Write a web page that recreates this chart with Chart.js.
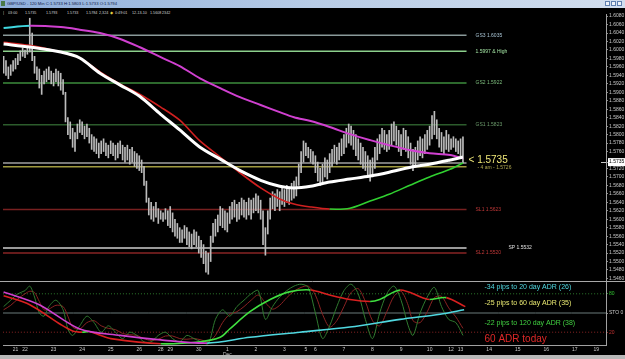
<!DOCTYPE html>
<html>
<head>
<meta charset="utf-8">
<script src="https://cdn.jsdelivr.net/npm/chart.js@4.4.1/dist/chart.umd.min.js"></script>
<style>
  html, body { margin: 0; padding: 0; background: #000; }
  body { width: 625px; height: 359px; position: relative; overflow: hidden; font-family: 'Liberation Sans', Arial, sans-serif; }
  #titlebar { position: absolute; left: 0; top: 0; width: 625px; height: 8px; background: linear-gradient(to right, #8eaedb, #b8cce6 50%, #d2deee); }
  #titlebar .t { position: absolute; left: 7px; top: 1px; font-size: 6px; line-height: 6px; color: #10204a; white-space: nowrap; transform: scale(0.7); transform-origin: left top; }
  #titlebar .icon { position: absolute; left: 1px; top: 1px; width: 4px; height: 5px; background: #4a7a4a; }
  #titlebar .btn { position: absolute; top: 1px; width: 5px; height: 5px; background: #eef2f8; box-shadow: inset 0 0 0 1px #6080b0; }
  #header span { position: absolute; top: 11px; font-size: 6px; line-height: 6px; color: #d0d0d0; white-space: nowrap; transform: scale(0.62); transform-origin: left top; }
  #wrap { position: absolute; left: 0; top: 8px; width: 625px; height: 347px; }
  #bottom { position: absolute; left: 0; top: 355px; width: 625px; height: 4px; background: #b8b8b8; }
</style>
</head>
<body>
<div id="titlebar">
  <div class="icon"></div>
  <span class="t">GBP/USD - 120 Min C:1.5733 H:1.5803 L:1.5733 O:1.5794</span>
  <div class="btn" style="left:605px"></div>
  <div class="btn" style="left:611px"></div>
  <div class="btn" style="left:617px"></div>
</div>
<div id="header">
  <span style="left:3px">|</span>
  <span style="left:8px">03:00</span>
  <span style="left:25px">1.5735</span>
  <span style="left:46px">1.5793</span>
  <span style="left:67px">1.5733</span>
  <span style="left:86px">1.5784</span>
  <span style="left:99px">2,324</span>
  <span style="left:110px;color:#e8d040">&#9670;</span>
  <span style="left:115px">0:49:01</span>
  <span style="left:132px">12-13-10</span>
  <span style="left:150px">1.5608</span>
  <span style="left:162px">2342</span>
</div>
<div id="wrap"><canvas id="chart"></canvas></div>
<div id="bottom"></div>

<script>
// x = bar number (120 min bars), 0 = first bar of Mon 22 Nov
const dayLabels = ['21', '22', '23', '24', '25', '26', '28', '29', '30', ['1', 'Dec'], '2', '3', '5', '6', '7', '8', '9', '10', '12', '13', '14', '15', '16', '17', '19'];
const dayTicks = [-4, 0, 12, 24, 36, 48, 57, 61, 73, 85, 97, 109, 118, 122, 134, 146, 158, 170, 179, 183, 195, 207, 219, 231, 240];
const firstBar = -9;

const highs = [
  1.5985, 1.5975, 1.5960, 1.5965, 1.5975, 1.5980, 1.5990, 1.5998, 1.6005, 1.6000, 1.6010, 1.6075,
  1.6040, 1.5985, 1.5960, 1.5955, 1.5940, 1.5950, 1.5955, 1.5960, 1.5950, 1.5945, 1.5955, 1.5950,
  1.5945, 1.5930, 1.5900, 1.5840, 1.5830, 1.5815, 1.5805, 1.5825, 1.5835, 1.5830, 1.5820, 1.5825,
  1.5815, 1.5800, 1.5795, 1.5790, 1.5780, 1.5785, 1.5790, 1.5780, 1.5775, 1.5785, 1.5780, 1.5775,
  1.5780, 1.5785, 1.5775, 1.5770, 1.5775, 1.5765, 1.5770, 1.5760, 1.5755, 1.5750, 1.5740, 1.5725,
  1.5690, 1.5650, 1.5640, 1.5630, 1.5640, 1.5625, 1.5620, 1.5615, 1.5625, 1.5620, 1.5630, 1.5615,
  1.5600, 1.5590, 1.5580, 1.5575, 1.5585, 1.5580, 1.5570, 1.5565, 1.5575, 1.5570, 1.5560, 1.5550,
  1.5540, 1.5525, 1.5520, 1.5560, 1.5590, 1.5600, 1.5610, 1.5630, 1.5625, 1.5620, 1.5615, 1.5630,
  1.5640, 1.5645, 1.5635, 1.5640, 1.5650, 1.5645, 1.5640, 1.5650, 1.5645, 1.5650, 1.5660, 1.5655,
  1.5645, 1.5620, 1.5580, 1.5620, 1.5650, 1.5665, 1.5660, 1.5670, 1.5665, 1.5675, 1.5670, 1.5680,
  1.5675, 1.5685, 1.5690, 1.5700, 1.5730, 1.5760, 1.5785, 1.5780, 1.5770, 1.5765, 1.5760, 1.5750,
  1.5735, 1.5720, 1.5730, 1.5745, 1.5740, 1.5755, 1.5765, 1.5775, 1.5770, 1.5780, 1.5790, 1.5800,
  1.5815, 1.5825, 1.5820, 1.5810, 1.5800, 1.5790, 1.5780, 1.5770, 1.5760, 1.5750, 1.5740, 1.5745,
  1.5770, 1.5790, 1.5800, 1.5815, 1.5810, 1.5800, 1.5810, 1.5825, 1.5830, 1.5820, 1.5810, 1.5800,
  1.5815, 1.5810, 1.5795, 1.5780, 1.5765, 1.5770, 1.5785, 1.5795, 1.5790, 1.5800, 1.5810, 1.5820,
  1.5845, 1.5855, 1.5835, 1.5815, 1.5805, 1.5795, 1.5810, 1.5800, 1.5790, 1.5795, 1.5790, 1.5785,
  1.5790, 1.5795
];
const lows = [
  1.5945, 1.5940, 1.5932, 1.5940, 1.5950, 1.5955, 1.5965, 1.5975, 1.5985, 1.5982, 1.5990, 1.5995,
  1.5975, 1.5945, 1.5930, 1.5910, 1.5895, 1.5920, 1.5925, 1.5930, 1.5920, 1.5915, 1.5925, 1.5915,
  1.5905, 1.5895, 1.5830, 1.5800, 1.5790, 1.5770, 1.5760, 1.5790, 1.5805, 1.5800, 1.5790, 1.5795,
  1.5780, 1.5765, 1.5760, 1.5755, 1.5745, 1.5755, 1.5760, 1.5750, 1.5745, 1.5755, 1.5750, 1.5740,
  1.5745, 1.5755, 1.5740, 1.5735, 1.5740, 1.5730, 1.5735, 1.5725, 1.5720, 1.5715, 1.5710, 1.5680,
  1.5640, 1.5610, 1.5600, 1.5595, 1.5605, 1.5590, 1.5600, 1.5595, 1.5600, 1.5585, 1.5580, 1.5570,
  1.5560, 1.5555, 1.5545, 1.5545, 1.5555, 1.5540, 1.5535, 1.5530, 1.5540, 1.5535, 1.5520, 1.5510,
  1.5495, 1.5475, 1.5470, 1.5500, 1.5545, 1.5560, 1.5570, 1.5585, 1.5580, 1.5575, 1.5570, 1.5590,
  1.5600, 1.5605, 1.5595, 1.5600, 1.5610, 1.5605, 1.5600, 1.5610, 1.5600, 1.5615, 1.5620, 1.5615,
  1.5600, 1.5540, 1.5515, 1.5565, 1.5600, 1.5625, 1.5620, 1.5630, 1.5620, 1.5635, 1.5630, 1.5640,
  1.5635, 1.5645, 1.5650, 1.5655, 1.5680, 1.5710, 1.5735, 1.5750, 1.5745, 1.5735, 1.5730, 1.5710,
  1.5690, 1.5680, 1.5685, 1.5700, 1.5695, 1.5710, 1.5725, 1.5735, 1.5730, 1.5740, 1.5750, 1.5755,
  1.5770, 1.5780, 1.5775, 1.5765, 1.5750, 1.5740, 1.5730, 1.5720, 1.5715, 1.5700, 1.5690, 1.5700,
  1.5720, 1.5740, 1.5755, 1.5770, 1.5765, 1.5760, 1.5765, 1.5775, 1.5785, 1.5775, 1.5760, 1.5750,
  1.5765, 1.5760, 1.5745, 1.5730, 1.5715, 1.5725, 1.5740, 1.5750, 1.5745, 1.5755, 1.5765, 1.5775,
  1.5790, 1.5800, 1.5790, 1.5770, 1.5760, 1.5755, 1.5765, 1.5760, 1.5765, 1.5770, 1.5760, 1.5755,
  1.5745, 1.5733
];
const lastPrice = 1.5735;

// moving averages, read at these bar numbers
const maT = [-9, 2, 15, 23, 31.5, 40, 48, 57, 65, 73.5, 82, 90, 99, 107, 113, 120, 128, 136.5, 145, 153, 162, 170, 178.6, 184];
const slowMA = [1.6052, 1.6057, 1.6054, 1.6048, 1.6040, 1.6026, 1.6007, 1.5983, 1.5962, 1.5933, 1.5910, 1.5889,
  1.5870, 1.5853, 1.5841, 1.5832, 1.5818, 1.5801, 1.5787, 1.5775, 1.5763, 1.5756, 1.5752, 1.5744];
const whiteMA = [1.6014, 1.6007, 1.5995, 1.5981, 1.5945, 1.5917, 1.5891, 1.5848, 1.5811, 1.5770, 1.5742, 1.5716,
  1.5692, 1.5678, 1.5674, 1.5678, 1.5688, 1.5695, 1.5702, 1.5711, 1.5723, 1.5730, 1.5740, 1.5747];
const fastMA = [1.6018, 1.6011, 1.5995, 1.5981, 1.5948, 1.5919, 1.5896, 1.5865, 1.5834, 1.5785, 1.5747, 1.5711,
  1.5674, 1.5648, 1.5636, 1.5629, 1.5624, 1.5626, 1.5643, 1.5659, 1.5681, 1.5700, 1.5718, 1.5733];

// support / resistance levels
const levelValues = [1.6035, 1.5997, 1.5922, 1.5823, 1.5623, 1.5532, 1.5520];
const levelLabels = ['GS3 1.6035', '1.5997 & High', 'GS2 1.5922', 'GS1 1.5823', 'SL1 1.5623', 'SP 1.5532', 'SL2 1.5520'];
const closeLine = 1.5733;
const pivotLine = 1.5724;

const priceTicks = [1.5460, 1.5480, 1.5500, 1.5520, 1.5540, 1.5560, 1.5580, 1.5600, 1.5620, 1.5640, 1.5660,
  1.5680, 1.5700, 1.5720, 1.5735, 1.5760, 1.5780, 1.5800, 1.5820, 1.5840, 1.5860, 1.5880, 1.5900, 1.5920,
  1.5940, 1.5960, 1.5980, 1.6000, 1.6020, 1.6040, 1.6060, 1.6080];

// stochastic panel
const stoT = [-9, -6, -3, 0, 2, 4, 6, 8, 10, 13, 16, 18, 20, 23, 26, 29, 32, 35, 38, 41, 44, 47, 50, 53, 56, 59, 62, 65,
  68, 71, 74, 77, 80, 83, 86, 89, 92, 95, 98, 101, 104, 107, 110, 113, 116, 119, 122, 125, 128, 131, 134, 137,
  140, 143, 146, 149, 152, 155, 158, 161, 163, 166, 169, 172, 175, 178, 181, 184];
const stoK = [60, 70, 80, 85, 92, 75, 50, 45, 60, 70, 55, 25, 15, 30, 45, 35, 20, 30, 20, 10, 20, 15, 5, 5, 15, 20, 10, 5,
  15, 10, 5, 2, 40, 55, 45, 60, 70, 80, 85, 40, 60, 75, 85, 92, 95, 90, 50, 10, 30, 60, 85, 95,
  80, 40, 10, 50, 80, 92, 70, 30, 15, 50, 75, 90, 60, 40, 35, 15];
const stoD = [55, 62, 72, 80, 84, 82, 68, 55, 56, 62, 60, 45, 28, 25, 35, 38, 30, 26, 24, 18, 16, 15, 10, 7, 9, 14, 14, 10,
  9, 10, 8, 5, 15, 35, 48, 52, 60, 70, 78, 66, 56, 62, 74, 84, 90, 92, 78, 48, 28, 38, 60, 82,
  88, 68, 38, 30, 52, 76, 84, 62, 38, 35, 52, 74, 76, 58, 44, 26];
const trendT = [-9, 2, 15, 20, 24, 27, 31, 36, 57, 73.5, 82, 86, 94.5, 103, 111, 120, 128, 136.5, 145, 149, 157.6, 167, 170, 177, 185];
const trendSto = [77, 63, 32, 22, 20, 21, 16, 10, 2, 5, 12, 25, 52, 71, 83, 86, 78, 71, 68, 71, 86, 74, 71, 74, 60];
const slowT = [-9, 6, 23, 40, 57, 76.5, 94.5, 115.5, 136.5, 157.6, 174.4, 184.5];
const slowSto = [83, 63, 25, 15, 8, 3, 12, 20, 28, 40, 48, 55];
const stoLevels = [20, 50, 80];
const stoLabels = ['20', 'STO 0', '80'];

const adrTexts = ['-34 pips to 20 day ADR (26)', '-25 pips to 60 day ADR (35)', '-22 pips to 120 day ADR (38)', '60 ADR today'];

const xMin = -9.25, xMax = 244.1, lineEnd = 185.5;
const family = "'Liberation Sans', Arial, sans-serif";
Chart.defaults.font.family = family;
Chart.defaults.font.size = 5;

const pts = (ts, vs) => ts.map((t, i) => ({ x: t, y: vs[i] }));
const flat = (v, a, b) => [{ x: a, y: v }, { x: b, y: v }];
const upDown = (up, down) => ({ borderColor: c => (c.p1.parsed.y >= c.p0.parsed.y ? up : down) });

const levelColors = ['#8a9a9a', '#8cd08c', '#3c8c3c', '#2c5c2c', '#782020', '#9a9a9a', '#882424'];
const levelTextColors = ['#a8c4d4', '#a0e0a0', '#7cbc7c', '#6c9c6c', '#c03838', '#e0e0e0', '#c03838'];
const adrColors = ['#50d8e0', '#e8e870', '#40d040', '#e02828'];

const datasets = [
  { type: 'line', data: pts(maT, whiteMA), borderColor: '#ffffff', borderWidth: 3, order: 0 },
  { type: 'line', data: pts(maT, slowMA), borderWidth: 2, segment: upDown('#40d8e0', '#d040d0'), order: 1 },
  { type: 'line', data: pts(maT, fastMA), borderWidth: 1.6, segment: upDown('#30d030', '#d02020'), order: 1 },
  { type: 'bar', data: highs.map((h, i) => ({ x: firstBar + i, y: [lows[i], h] })),
    backgroundColor: '#bcbcbc', barThickness: 1, order: 5 },
  { type: 'line', data: flat(closeLine, xMin, lineEnd), borderColor: '#a0a0a0', borderWidth: 1.5, order: 6 },
  { type: 'line', data: flat(pivotLine, xMin, lineEnd), borderColor: '#a09a40', borderWidth: 1.5, order: 6 },
];
levelValues.forEach((v, i) => {
  datasets.push({ type: 'line', data: flat(v, xMin, lineEnd), borderColor: levelColors[i],
    borderWidth: i === 5 ? 2 : 1.5, order: 7 });
});
// stochastic panel
datasets.push(
  { type: 'line', yAxisID: 'y2', data: pts(slowT, slowSto), borderWidth: 1.6, segment: upDown('#50d8e0', '#d040d0'), order: 1 },
  { type: 'line', yAxisID: 'y2', data: pts(trendT, trendSto), borderWidth: 1.6, segment: upDown('#40e040', '#d82020'), order: 1 },
  { type: 'line', yAxisID: 'y2', data: pts(stoT, stoK), borderColor: '#2f7a2f', borderWidth: 1, order: 3 },
  { type: 'line', yAxisID: 'y2', data: pts(stoT, stoD), borderColor: '#8a2222', borderWidth: 1, order: 3 },
  { type: 'line', yAxisID: 'y2', data: flat(80, xMin, xMax), borderColor: '#2c7a2c', borderWidth: 1, borderDash: [1, 2], order: 8 },
  { type: 'line', yAxisID: 'y2', data: flat(50, xMin, xMax), borderColor: '#6a7a7a', borderWidth: 1, order: 8 },
  { type: 'line', yAxisID: 'y2', data: flat(20, xMin, xMax), borderColor: '#8a2424', borderWidth: 1, borderDash: [1, 2], order: 8 },
);
datasets.forEach(d => { if (d.type === 'line') { d.pointRadius = 0; d.tension = 0.3; } });

const annotations = {
  id: 'annotations',
  afterDraw(chart) {
    const { ctx, scales: { x, y, y2 } } = chart;
    ctx.save();
    // panel separator
    ctx.strokeStyle = '#a8a8a8';
    ctx.lineWidth = 1;
    ctx.beginPath();
    ctx.moveTo(0, Math.round(y2.top) + 0.5);
    ctx.lineTo(chart.width, Math.round(y2.top) + 0.5);
    ctx.stroke();

    ctx.textBaseline = 'middle';
    ctx.font = '5px ' + family;
    const lx = x.getPixelForValue(lineEnd) + 9;
    levelValues.forEach((v, i) => {
      ctx.fillStyle = levelTextColors[i];
      ctx.fillText(levelLabels[i], i === 5 ? lx + 33 : lx, y.getPixelForValue(v));
    });
    ctx.fillStyle = '#b0a850';
    ctx.fillText('- 4 am - 1.5726', lx + 2, y.getPixelForValue(pivotLine) + 1);
    ctx.fillStyle = '#f0e878';
    ctx.font = '10px ' + family;
    ctx.fillText('< ' + lastPrice.toFixed(4), lx - 7, y.getPixelForValue(lastPrice) - 2);

    ctx.font = '7px ' + family;
    const ax = lx + 9;
    [91, 65, 35].forEach((v, i) => {
      ctx.fillStyle = adrColors[i];
      ctx.fillText(adrTexts[i], ax, y2.getPixelForValue(v));
    });
    ctx.font = '10px ' + family;
    ctx.fillStyle = adrColors[3];
    ctx.fillText(adrTexts[3], ax, y2.getPixelForValue(9));

    // arrow pointing at the last price box
    ctx.strokeStyle = '#c8c8c8';
    const py = Math.round(y.getPixelForValue(lastPrice)) + 0.5;
    ctx.beginPath();
    ctx.moveTo(y.left - 5, py);
    ctx.lineTo(y.left, py);
    ctx.stroke();
    ctx.restore();
  }
};

new Chart(document.getElementById('chart'), {
  type: 'line',
  data: { datasets },
  plugins: [annotations],
  options: {
    responsive: true,
    maintainAspectRatio: false,
    animation: false,
    layout: { padding: { top: 6, left: 3, right: 0, bottom: 0 } },
    plugins: { legend: { display: false }, tooltip: { enabled: false } },
    scales: {
      x: {
        type: 'linear', min: xMin, max: xMax, offset: false,
        grid: { display: false, drawTicks: false, offset: false },
        border: { display: true, color: '#a0a0a0' },
        afterBuildTicks: s => { s.ticks = dayTicks.map(v => ({ value: v })); },
        afterFit: s => { s.height = 10; },
        ticks: { autoSkip: false, maxRotation: 0, padding: 2, color: '#c8c8c8', font: { size: 5, lineHeight: 1 },
          callback: (v, i) => dayLabels[i] }
      },
      y: {
        position: 'right', stack: 'panels', stackWeight: 267, min: 1.5454, max: 1.6085,
        grid: { display: true, drawOnChartArea: false, tickLength: 2, color: '#8a8a8a' },
        border: { display: true, color: '#a0a0a0' },
        afterBuildTicks: s => { s.ticks = priceTicks.map(v => ({ value: v })); },
        afterFit: s => { s.width = 19; },
        ticks: {
          autoSkip: false, padding: 1, font: { size: 5 },
          color: c => (c.tick && c.tick.value === lastPrice ? '#000000' : '#c8c8c8'),
          showLabelBackdrop: c => !!(c.tick && c.tick.value === lastPrice),
          backdropColor: '#ffffff', backdropPadding: { top: 1, bottom: 1, left: 1, right: 1 },
          callback: v => v.toFixed(4)
        }
      },
      y2: {
        position: 'right', stack: 'panels', stackWeight: 64, min: 0, max: 100,
        grid: { display: true, drawOnChartArea: false, tickLength: 2, color: c => ['#8a2424', '#8a8a8a', '#2c8a2c'][c.index] || '#8a8a8a' },
        border: { display: true, color: '#a0a0a0' },
        afterBuildTicks: s => { s.ticks = stoLevels.map(v => ({ value: v })); },
        afterFit: s => { s.width = 19; },
        ticks: { autoSkip: false, padding: 1, font: { size: 5 },
          color: c => ['#c03030', '#c8c8c8', '#30c030'][c.index],
          callback: (v, i) => stoLabels[i] }
      }
    }
  }
});
</script>
</body>
</html>
